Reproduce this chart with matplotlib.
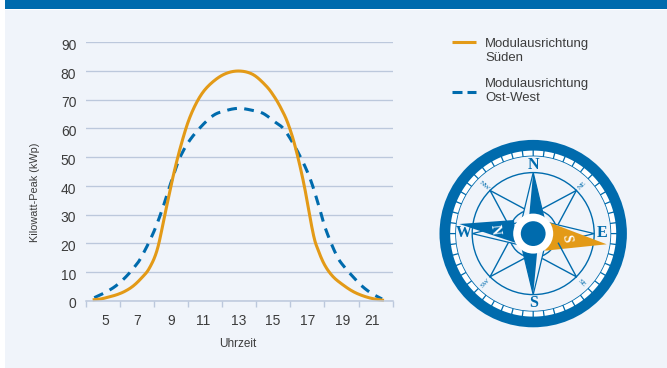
import numpy as np
import matplotlib
matplotlib.use('Agg')
import matplotlib.pyplot as plt
from matplotlib.patches import Circle, Polygon, Wedge, Rectangle
from matplotlib.transforms import ScaledTranslation

plt.rcParams['font.family'] = ['Liberation Sans', 'DejaVu Sans']

# values
hours_sued = [4, 4.5, 5, 5.5, 6, 6.5, 7, 7.5, 8, 8.5, 9, 9.5, 10, 10.6, 11.24,
              12.1, 13, 13.9, 14.72, 15.23, 15.64, 16.05, 16.5, 17.04, 17.62,
              17.93, 18.34, 18.85, 19.47, 20.09, 20.7, 21.32, 22]
kwp_sued = [0.3, 0.6, 1.3, 2.1, 3.3, 5.1, 7.8, 11.3, 18, 31, 44, 55, 63.8, 70.8, 75.3,
            78.8, 80, 78.8, 74.8, 71, 67, 62, 54, 41, 23.5,
            17.7, 12.4, 8.4, 5.5, 3.2, 1.7, 0.7, 0.1]
hours_ow = [4.1, 4.76, 5.42, 6, 6.55, 7, 7.74, 8.3, 8.83, 9.42, 10.2, 11.35, 12.17,
            13, 13.79, 14.51, 15.23, 15.85, 16.67, 17.39, 17.93, 18.38,
            19.06, 19.53, 19.98, 20.6, 21.22, 21.88]
kwp_ow = [1.05, 2.8, 5.1, 8, 11.5, 15.1, 23.5, 31.8, 41, 50.2, 57.4, 64.1, 66.1,
          67, 66.4, 65.3, 62.4, 59.5, 51.9, 43.2, 33.9, 25.2,
          15.9, 11.9, 9, 5.3, 2.6, 0.6]
y_ticks = [0, 10, 20, 30, 40, 50, 60, 70, 80, 90]
hour_labels = [5, 7, 9, 11, 13, 15, 17, 19, 21]
label_pos = [4.76, 6.73, 8.87, 10.85, 13.0, 15.1, 17.27, 19.43, 21.24]
legend_sued = 'Modulausrichtung\nSüden'
legend_ow = 'Modulausrichtung\nOst-West'

BLUE = '#006bad'
ORANGE = '#e39a17'
PANEL = '#f0f4fa'
GRID = '#bcc8dc'
TEXT = '#3c3c3c'

W, H = 667, 368


def smooth(xs, ys, n=12):
    # catmull-rom through the read points, the original line is a smoothed one
    p = np.column_stack([xs, ys])
    p = np.vstack([p[0], p, p[-1]])
    out = []
    for i in range(1, len(p) - 2):
        for t in np.linspace(0, 1, n, endpoint=False):
            out.append(0.5 * (2 * p[i] + (p[i + 1] - p[i - 1]) * t
                              + (2 * p[i - 1] - 5 * p[i] + 4 * p[i + 1] - p[i + 2]) * t ** 2
                              + (3 * p[i] - p[i - 1] - 3 * p[i + 1] + p[i + 2]) * t ** 3))
    out.append(p[-1])
    out = np.array(out)
    return out[:, 0], out[:, 1]


fig = plt.figure(figsize=(W / 100, H / 100), dpi=100, facecolor='white')

# full figure axes in pixels, for panel, legend and compass
bg = fig.add_axes([0, 0, 1, 1], zorder=0)
bg.set_xlim(0, W)
bg.set_ylim(H, 0)
bg.axis('off')
bg.add_patch(Rectangle((5, 10), W - 5, H - 10, fc=PANEL, ec='none'))
bg.add_patch(Rectangle((5, 0), W - 5, 9.3, fc=BLUE, ec='none'))

# chart
left, right, top, bottom = 85.7, 392.7, 42.3, 300.7
ax = fig.add_axes([left / W, 1 - bottom / H, (right - left) / W, (bottom - top) / H], zorder=1)
ax.patch.set_alpha(0)
ax.set_xlim(3.57, 22.54)
ax.set_ylim(0, 90)
for s in ['top', 'left', 'right']:
    ax.spines[s].set_visible(False)
ax.spines['bottom'].set_color(GRID)
ax.spines['bottom'].set_linewidth(1.1)
ax.set_yticks(y_ticks)
ax.tick_params(axis='y', length=0, labelsize=10, labelcolor=TEXT, pad=6.8)
ax.grid(axis='y', color=GRID, linewidth=0.95)
ax.set_axisbelow(True)
ax.set_xticks(np.linspace(3.57, 22.54, 10))
ax.set_xticklabels([])
ax.tick_params(axis='x', which='major', length=4.5, width=1, color=GRID)
ax.set_xticks(label_pos, minor=True)
ax.set_xticklabels([str(h) for h in hour_labels], minor=True)
ax.tick_params(axis='x', which='minor', length=0, labelsize=10, labelcolor=TEXT, pad=9.3)

ax.plot(*smooth(hours_ow, kwp_ow), color=BLUE, linewidth=2.2, linestyle=(0, (3.2, 2.4)), clip_on=False)
ax.plot(*smooth(hours_sued, kwp_sued), color=ORANGE, linewidth=2.2, clip_on=False, solid_capstyle='butt')

ax.set_ylabel('Kilowatt-Peak (kWp)', fontsize=7.8, color=TEXT)
ax.yaxis.set_label_coords((40.5 - left) / (right - left), 0.5 - (192 - (top + bottom) / 2) / (bottom - top))
bg.text(237.5, 344.2, 'Uhrzeit', fontsize=8.5, color=TEXT, ha='center', va='center')

for lab in ax.get_yticklabels():
    lab.set_transform(lab.get_transform() + ScaledTranslation(0, -1.6 / 72, fig.dpi_scale_trans))

# legend
bg.plot([452, 476], [42, 42], color=ORANGE, linewidth=2.2, solid_capstyle='butt')
bg.plot([452, 462], [92, 92], color=BLUE, linewidth=2.2, solid_capstyle='butt')
bg.plot([467, 476], [92, 92], color=BLUE, linewidth=2.2, solid_capstyle='butt')
bg.text(485, 51, legend_sued, fontsize=9.45, color=TEXT, va='center', linespacing=1.25)
bg.text(485, 91, legend_ow, fontsize=9.45, color=TEXT, va='center', linespacing=1.25)

# compass
cx, cy = 533.2, 233.6


def pt(r, deg):
    # deg clockwise from north, y axis points down
    a = np.radians(deg)
    return cx + r * np.sin(a), cy - r * np.cos(a)


bg.add_patch(Circle((cx, cy), 93.7, fc=BLUE, ec='none'))
bg.add_patch(Circle((cx, cy), 77.2, fc=PANEL, ec='none'))
for k in range(48):
    a = k * 7.5
    bg.add_patch(Wedge((cx, cy), 83, a + 0.45, a + 7.05, width=5, fc='white', ec='none'))
bg.add_patch(Circle((cx, cy), 61, fc='none', ec=BLUE, lw=1))
bg.add_patch(Circle((cx, cy), 24, fc='none', ec=BLUE, lw=1))

for d in [45, 135, 225, 315]:
    tip = pt(61, d)
    for off in [-24, 24]:
        p = pt(27, d + off)
        bg.plot([tip[0], p[0]], [tip[1], p[1]], color=BLUE, lw=1)

# cardinal spikes: outline, then the filled part
for d in [0, 90, 180, 270]:
    bg.add_patch(Polygon([pt(61, d), pt(19, d + 35), pt(19, d - 35)], closed=True, fc=PANEL, ec=BLUE, lw=0.9))
bg.add_patch(Polygon([pt(61, 0), pt(19, 35), pt(19, -12)], closed=True, fc=BLUE, ec='none'))
bg.add_patch(Polygon([pt(61, 180), pt(19, 215), pt(19, 168)], closed=True, fc=BLUE, ec='none'))

# needle
bg.add_patch(Polygon([(459.3, 224), (514, 220), (516, 243)], closed=True, fc=BLUE, ec='none'))
bg.add_patch(Polygon([(550, 222.7), (606.7, 244.3), (545, 250.7)], closed=True, fc=ORANGE, ec='none'))
bg.text(495, 229.5, 'N', fontsize=10, family='Liberation Serif', weight='bold', color='white', rotation=-82,
        ha='center', va='center')
bg.text(566.7, 238.3, 'S', fontsize=10, family='Liberation Serif', weight='bold', color='white', rotation=-82,
        ha='center', va='center')

# hub
bg.add_patch(Circle((cx, cy), 20, fc='white', ec='none'))
bg.add_patch(Circle((cx, cy), 12.4, fc=BLUE, ec='none'))

# letters
for s, x, y in [('N', 533.3, 165), ('S', 533.3, 303.3), ('W', 463.3, 233.3), ('E', 601.7, 232.7)]:
    bg.text(x, y, s, fontsize=11.5, family='Liberation Serif', weight='bold', color=BLUE, ha='center', va='center')
for s, x, y, rot in [('NW', 484, 186, -40), ('NE', 582.3, 185, 45), ('SW', 485, 283.3, 45), ('SE', 581.3, 282.7, -45)]:
    bg.text(x, y, s, fontsize=5.2, family='Liberation Serif', color=BLUE, rotation=rot, ha='center', va='center')

fig.savefig('out.png', dpi=100)
